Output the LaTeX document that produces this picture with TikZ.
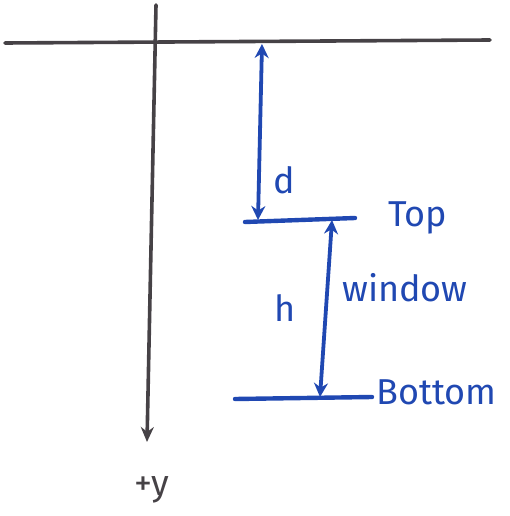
\documentclass[tikz,border=0pt]{standalone}
\usepackage{fontspec}
\setsansfont{Fira Sans}
\usetikzlibrary{positioning, arrows.meta}
\definecolor{pen}{RGB}{32,72,178}
\definecolor{pencil}{RGB}{70,66,70}

\begin{document}
\begin{tikzpicture}[
    x=1pt, y=-1pt,
    axis/.style={draw=pencil, line width=3.6pt, line cap=round},
    level/.style={draw=pen, line width=4.4pt, line cap=round},
    dim/.style={{Stealth[length=14pt,width=14pt]}-{Stealth[length=14pt,width=14pt]}, draw=pen, line width=3.8pt},
    tag/.style={font=\fontsize{36}{40}\selectfont\sffamily, text=pen, inner sep=0pt},
    axislabel/.style={font=\fontsize{36}{40}\selectfont\sffamily, text=pencil, inner sep=0pt}
]
\useasboundingbox (0,0) rectangle (509,516);

% Axes
\coordinate (xl) at (5,43);
\coordinate (xr) at (490,40);
\coordinate (yt) at (156,5);
\coordinate (yb) at (147,442);
\draw[axis] (xl) -- (xr);
\draw[axis, -{Stealth[length=15pt,width=13pt]}] (yt) -- (yb);
\node[axislabel] (plusy) at (152,490) {+y};

% Window levels
\coordinate (topl) at (245,222);
\coordinate (topr) at (355,218);
\coordinate (botl) at (235,399);
\coordinate (botr) at (372,397);
\draw[level] (topl) -- (topr);
\draw[level] (botl) -- (botr);
\node[tag, anchor=west] (top) at (388,218) {Top};
\node[tag, anchor=west] (bottom) at (376,392) {Bottom};
\node[tag, anchor=west] (window) at (342,288) {window};

% Distances
\coordinate (d0) at (262,44);
\coordinate (d1) at (258,220);
\coordinate (h0) at (332,220);
\coordinate (h1) at (320,397);
\draw[dim] (d0) -- (d1);
\draw[dim] (h0) -- (h1);
\node[tag] (dlabel) at (284,180) {d};
\node[tag] (hlabel) at (285,308) {h};

\end{tikzpicture}
\end{document}
